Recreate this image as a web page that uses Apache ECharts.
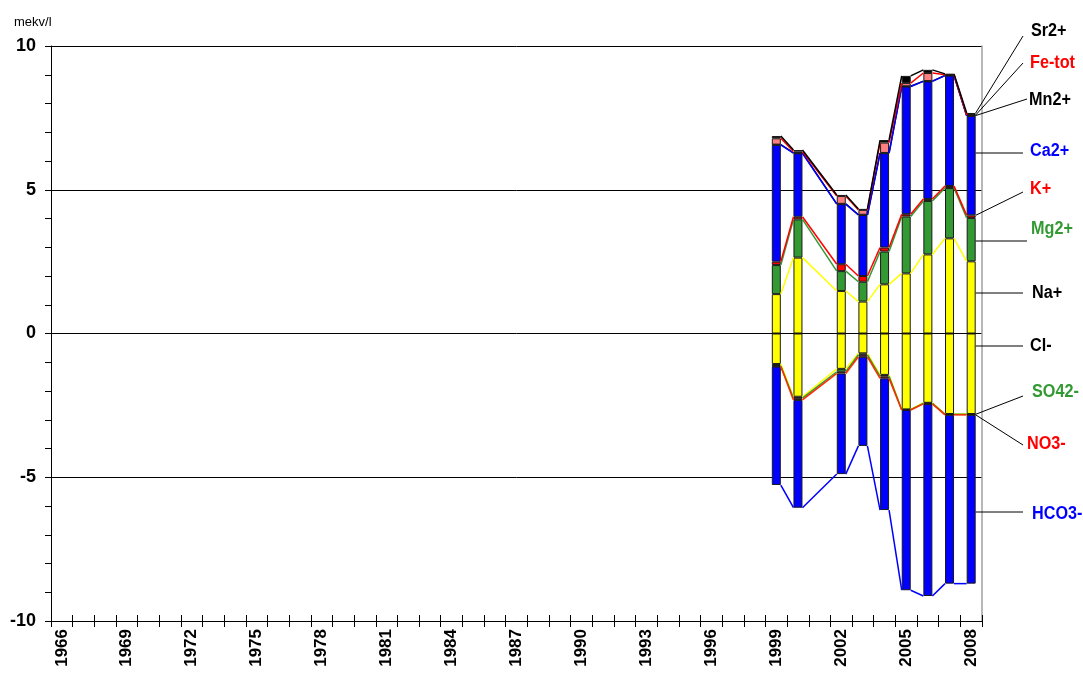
<!DOCTYPE html>
<html>
<head>
<meta charset="utf-8">
<title>mekv/l</title>
<script src="https://cdn.jsdelivr.net/npm/echarts@6/dist/echarts.min.js"></script>
<style>
  html, body { margin: 0; padding: 0; background: #ffffff; }
  #chart { width: 1083px; height: 675px; }
</style>
</head>
<body>
<div id="chart"></div>
<script>
// Category axis: every year 1966-2008
const years = [];
for (let y = 1966; y <= 2008; y++) years.push(String(y));

// Sampled years (2001 has no sample)
const sampleYears = ['1999', '2000', '2002', '2003', '2004', '2005', '2006', '2007', '2008'];

// Cations, mekv/l (stacked upward, bottom to top)
const naPlus  = [1.37, 2.64, 1.48, 1.11, 1.71, 2.09, 2.75, 3.31, 2.51];
const mg2Plus = [1.01, 1.33, 0.69, 0.69, 1.14, 1.98, 1.86, 1.75, 1.51];
const kPlus   = [0.12, 0.09, 0.24, 0.20, 0.14, 0.08, 0.07, 0.07, 0.09];
const ca2Plus = [4.06, 2.21, 2.09, 2.12, 3.28, 4.44, 4.09, 3.84, 3.46];
const mn2Plus = [0.01, 0.01, 0.01, 0.01, 0.01, 0.01, 0.01, 0.01, 0.01];
const feTot   = [0.22, 0.05, 0.27, 0.17, 0.36, 0.11, 0.28, 0.02, 0.02];
const sr2Plus = [0.08, 0.05, 0.04, 0.03, 0.09, 0.25, 0.11, 0.03, 0.07];

// Anions, mekv/l (stacked downward, top to bottom)
const clMinus   = [1.06, 2.20, 1.23, 0.69, 1.44, 2.64, 2.41, 2.80, 2.80];
const so4Minus  = [0.07, 0.05, 0.10, 0.05, 0.05, 0.01, 0.02, 0.01, 0.01];
const no3Minus  = [0.02, 0.06, 0.06, 0.07, 0.07, 0.01, 0.02, 0.02, 0.02];
const hco3Minus = [4.12, 3.75, 3.50, 3.10, 4.58, 6.27, 6.68, 5.87, 5.87];

const yTicks = { min: -10, max: 10, step: 5 };

const FONT = '"Liberation Sans", Arial, sans-serif';

// Ion definitions: values, sign, fill colour, connecting-line colour, label colour
const ions = [
  { name: 'Na+',   values: naPlus,    sign: 1,  fill: '#FFFF00', line: '#FFFF00', text: '#000000' },
  { name: 'Mg2+',  values: mg2Plus,   sign: 1,  fill: '#339933', line: '#339933', text: '#339933' },
  { name: 'K+',    values: kPlus,     sign: 1,  fill: '#FF0000', line: '#FF0000', text: '#FF0000' },
  { name: 'Ca2+',  values: ca2Plus,   sign: 1,  fill: '#0000FF', line: '#0000FF', text: '#0000FF' },
  { name: 'Mn2+',  values: mn2Plus,   sign: 1,  fill: '#000000', line: '#000000', text: '#000000' },
  { name: 'Fe-tot',values: feTot,     sign: 1,  fill: '#FF8080', line: '#FF0000', text: '#FF0000' },
  { name: 'Sr2+',  values: sr2Plus,   sign: 1,  fill: '#000000', line: '#000000', text: '#000000' },
  { name: 'Cl-',   values: clMinus,   sign: -1, fill: '#FFFF00', line: '#FFFF00', text: '#000000' },
  { name: 'SO42-', values: so4Minus,  sign: -1, fill: '#339933', line: '#339933', text: '#339933' },
  { name: 'NO3-',  values: no3Minus,  sign: -1, fill: '#FF0000', line: '#FF2A00', text: '#FF0000' },
  { name: 'HCO3-', values: hco3Minus, sign: -1, fill: '#0000FF', line: '#0000FF', text: '#0000FF' }
];

// Cumulative stack edge of each ion for each sampled year
const cumPos = sampleYears.map(() => 0);
const cumNeg = sampleYears.map(() => 0);
ions.forEach(ion => {
  ion.cum = ion.values.map((v, k) => {
    if (ion.sign > 0) { cumPos[k] += v; return cumPos[k]; }
    cumNeg[k] -= v; return cumNeg[k];
  });
});

const yearIndex = sampleYears.map(y => years.indexOf(y));
const BAR_W = 9;

// Stacked bar series on the full year axis
const barSeries = ions.map(ion => {
  const data = years.map(() => null);
  ion.values.forEach((v, k) => { data[yearIndex[k]] = ion.sign * v; });
  return {
    name: ion.name,
    type: 'bar',
    stack: 'ions',
    barWidth: BAR_W,
    data: data,
    itemStyle: { color: ion.fill, borderColor: '#1a1a1a', borderWidth: 1 },
    emphasis: { disabled: true },
    animation: false,
    z: 2
  };
});

// Lines joining the stack edges from one bar to the next
const lineOrder = ['Na+', 'Mg2+', 'Mn2+', 'K+', 'Ca2+', 'Fe-tot', 'Sr2+', 'Cl-', 'SO42-', 'NO3-', 'HCO3-'];
const segData = [];
lineOrder.forEach(nm => {
  const i = ions.findIndex(o => o.name === nm);
  const ion = ions[i];
  for (let k = 0; k < sampleYears.length - 1; k++) {
    segData.push([yearIndex[k], ion.cum[k], yearIndex[k + 1], ion.cum[k + 1], i]);
  }
});

const seriesLines = {
  type: 'custom',
  data: segData,
  encode: { x: [0, 2], y: [1, 3] },
  clip: false,
  silent: true,
  animation: false,
  z: 5,
  renderItem: function (params, api) {
    const p0 = api.coord([api.value(0), api.value(1)]);
    const p1 = api.coord([api.value(2), api.value(3)]);
    const ion = ions[api.value(4)];
    return {
      type: 'line',
      shape: { x1: p0[0] + BAR_W / 2, y1: p0[1], x2: p1[0] - BAR_W / 2, y2: p1[1] },
      style: { stroke: ion.line, lineWidth: 1.5 }
    };
  }
};

// Right-hand ion names with leader lines to the last bar
// mode 'edge': leader starts at the ion's stack edge; 'flat': horizontal leader
const labelLayout = [
  { name: 'Sr2+',   tx: 1031, ty: 31,  ex: 1023, ey: 36,  mode: 'edge' },
  { name: 'Fe-tot', tx: 1030, ty: 63,  ex: 1023, ey: 63,  mode: 'edge' },
  { name: 'Mn2+',   tx: 1029, ty: 100, ex: 1027, ey: 99,  mode: 'edge' },
  { name: 'Ca2+',   tx: 1030, ty: 151, ex: 1023, ey: 153, mode: 'flat' },
  { name: 'K+',     tx: 1030, ty: 189, ex: 1023, ey: 192, mode: 'edge' },
  { name: 'Mg2+',   tx: 1031, ty: 229, ex: 1027, ey: 241, mode: 'flat' },
  { name: 'Na+',    tx: 1032, ty: 293, ex: 1023, ey: 293, mode: 'flat' },
  { name: 'Cl-',    tx: 1030, ty: 346, ex: 1023, ey: 346, mode: 'flat' },
  { name: 'SO42-',  tx: 1032, ty: 392, ex: 1023, ey: 396, mode: 'edge' },
  { name: 'NO3-',   tx: 1027, ty: 444, ex: 1023, ey: 445, mode: 'edge' },
  { name: 'HCO3-',  tx: 1032, ty: 514, ex: 1023, ey: 512, mode: 'flat' }
];
const lastK = sampleYears.length - 1;
const labelData = labelLayout.map((L, j) => {
  const i = ions.findIndex(o => o.name === L.name);
  return [yearIndex[lastK], ions[i].cum[lastK], j, i];
});

const ionLabels = {
  type: 'custom',
  data: labelData,
  encode: { x: 0, y: 1 },
  clip: false,
  silent: true,
  animation: false,
  z: 6,
  renderItem: function (params, api) {
    const L = labelLayout[api.value(2)];
    const ion = ions[api.value(3)];
    const p = api.coord([api.value(0), api.value(1)]);
    const sx = p[0] + BAR_W / 2;
    const sy = L.mode === 'edge' ? p[1] : L.ey;
    return {
      type: 'group',
      children: [
        { type: 'line', shape: { x1: sx, y1: sy, x2: L.ex, y2: L.ey },
          style: { stroke: '#000000', lineWidth: 1 } },
        { type: 'text', x: L.tx, y: L.ty, scaleX: 0.9, originX: 0, originY: 0,
          style: { text: ion.name, fill: ion.text, font: 'bold 18px ' + FONT,
                   align: 'left', verticalAlign: 'middle' } }
      ]
    };
  }
};

const chart = echarts.init(document.getElementById('chart'), null, { renderer: 'canvas' });
chart.setOption({
  backgroundColor: '#ffffff',
  animation: false,
  title: {
    text: 'mekv/l', left: 9, top: 11,
    textStyle: { fontSize: 13, fontWeight: 'normal', color: '#000000', fontFamily: FONT }
  },
  grid: { left: 51, right: 101, top: 46, bottom: 54, containLabel: false },
  xAxis: [
    {
      type: 'category', data: years, position: 'bottom', boundaryGap: true,
      axisLine: { show: true, onZero: false, lineStyle: { color: '#000000', width: 1 } },
      axisTick: { show: true, interval: 0, length: 6, lineStyle: { color: '#000000' } },
      axisLabel: { interval: 2, rotate: 90, margin: 8, color: '#000000',
                   fontSize: 17, fontWeight: 'bold', fontFamily: FONT },
      splitLine: { show: false }
    },
    {
      type: 'category', data: years, position: 'bottom', boundaryGap: true,
      axisLine: { show: false, onZero: false },
      axisTick: { show: true, inside: true, interval: 0, length: 6, lineStyle: { color: '#000000' } },
      axisLabel: { show: false },
      splitLine: { show: false }
    }
  ],
  yAxis: [
    {
      type: 'value', min: yTicks.min, max: yTicks.max, interval: yTicks.step, position: 'left',
      axisLine: { show: true, onZero: false, lineStyle: { color: '#000000', width: 1 } },
      axisTick: { show: true, length: 6, lineStyle: { color: '#000000' } },
      minorTick: { show: true, splitNumber: 5, length: 6, lineStyle: { color: '#000000' } },
      axisLabel: { margin: 15, color: '#000000', fontSize: 18, fontWeight: 'bold', fontFamily: FONT },
      splitLine: { show: true, lineStyle: { color: '#000000', width: 1 } }
    },
    {
      type: 'value', min: yTicks.min, max: yTicks.max, interval: yTicks.step, position: 'right',
      axisLine: { show: true, onZero: false, lineStyle: { color: '#a0a0a0', width: 1.5 } },
      axisTick: { show: false }, axisLabel: { show: false }, splitLine: { show: false }
    }
  ],
  series: barSeries.concat([seriesLines, ionLabels])
});
</script>
</body>
</html>
